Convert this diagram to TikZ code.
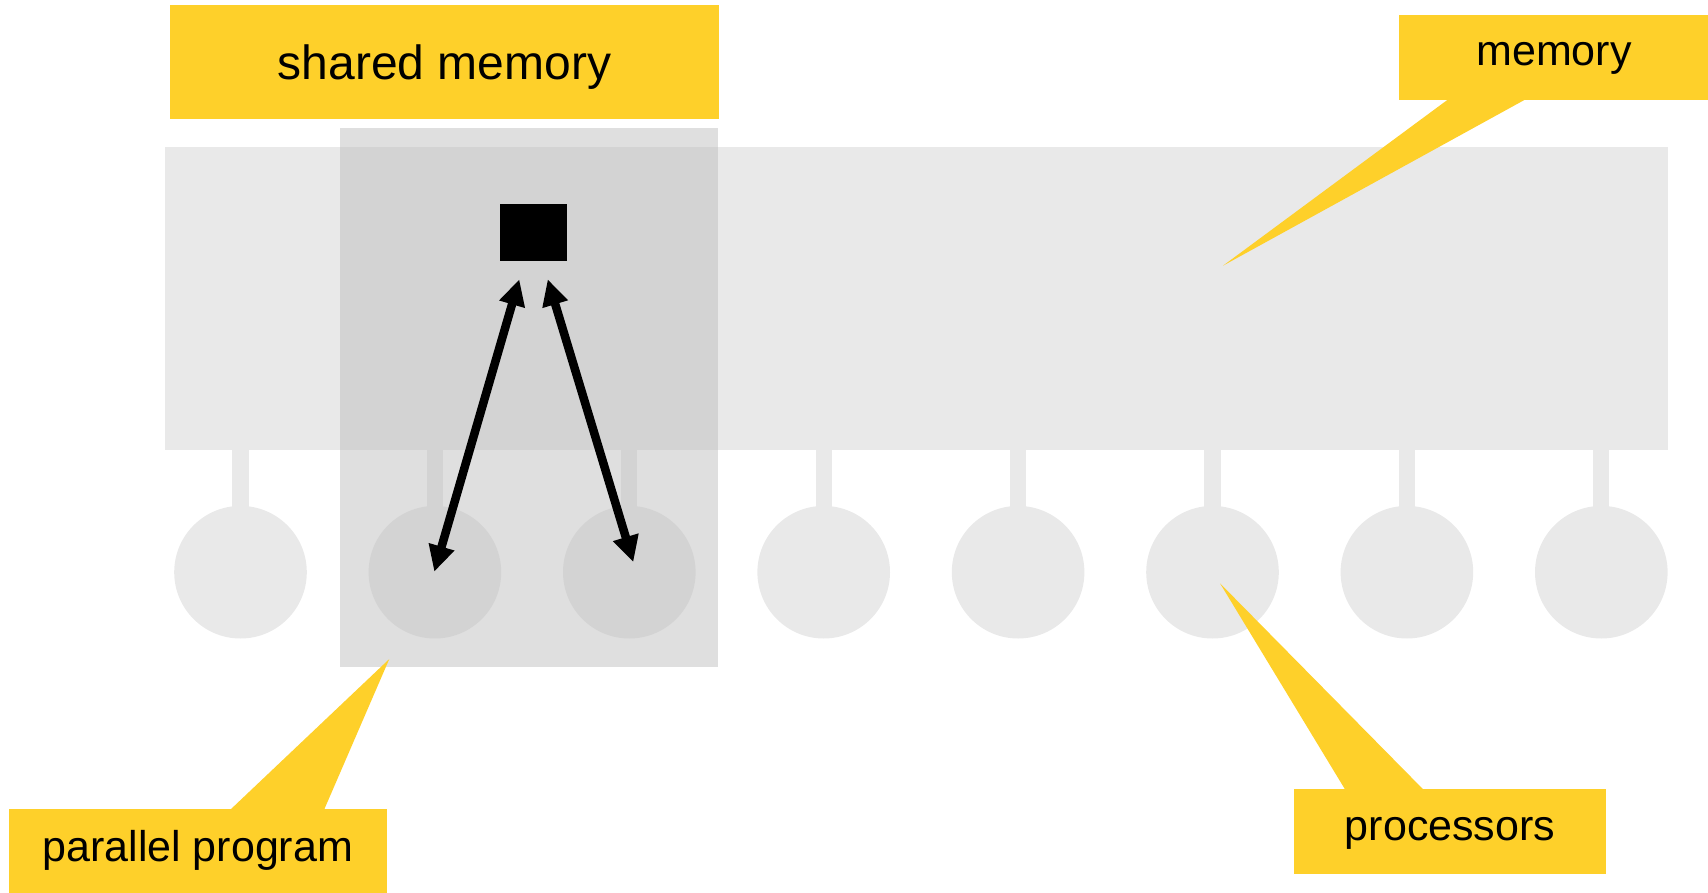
\documentclass[tikz,border=0pt]{standalone}
\usepackage{fontspec}
\setmainfont{Liberation Sans}
\usetikzlibrary{arrows.meta}
\definecolor{memgray}{RGB}{233,233,233}
\definecolor{progray}{RGB}{191,191,191}
\definecolor{calloutyellow}{RGB}{254,208,42}
\begin{document}
\begin{tikzpicture}[x=1pt,y=-1pt,
  membox/.style={fill=memgray,draw=none,inner sep=0pt,anchor=north west},
  procnode/.style={circle,fill=memgray,draw=none,minimum size=132.6pt,inner sep=0pt},
  stemline/.style={draw=memgray,line width=16.3pt,line cap=butt},
  progbox/.style={fill=progray,fill opacity=0.5,draw=none,inner sep=0pt,anchor=north west},
  callout/.style={fill=calloutyellow,draw=none},
  lbl/.style={anchor=base,inner sep=0pt,text=black,font=\fontsize{43}{50}\selectfont},
  biglbl/.style={lbl,font=\fontsize{48}{58}\selectfont},
  dblarrow/.style={draw=black,line width=8.5pt,{Triangle[length=26pt,width=25pt]}-{Triangle[length=26pt,width=25pt]}}
]
\useasboundingbox (0,0) rectangle (1708,893);

% memory block
\node[membox,minimum width=1503.5pt,minimum height=302.7pt] (memory) at (164.5,147) {};

% processors
\foreach \i in {0,...,7}{
  \node[procnode] (p\i) at ({240.5+194.4*\i},572.2) {};
  \draw[stemline] (p\i |- memory.south) -- (p\i.center);
}

% parallel program region
\node[progbox,minimum width=378pt,minimum height=539pt] (program) at (340,127.7) {};

% shared cell
\node[fill=black,draw=none,inner sep=0pt,anchor=north west,minimum width=67pt,minimum height=57pt] (cell) at (500,203.9) {};

% arrows
\coordinate (a1top) at (519.3,279.3);
\coordinate (a1bot) at (434.3,571.7);
\coordinate (a2top) at (547.7,279.3);
\coordinate (a2bot) at (633.3,562.1);
\draw[dblarrow] (a1top) -- (a1bot);
\draw[dblarrow] (a2top) -- (a2bot);

% callout: shared memory
\fill[callout] (170,5) rectangle (719,118.7);
\node[biglbl] (sharedlbl) at (444.5,80) {shared memory};

% callout: memory
\fill[callout] (1398.7,15) rectangle (1708,99.7);
\coordinate (memtip) at (1223,265.7);
\fill[callout] (1450,98) -- (1528,98) -- (memtip) -- cycle;
\node[lbl] (memlbl) at (1554,65.7) {memory};

% callout: parallel program
\fill[callout] (9,809) rectangle (386.7,893);
\coordinate (progtip) at (389.3,659);
\fill[callout] (230,810) -- (324,810) -- (progtip) -- cycle;
\node[lbl] (proglbl) at (197.8,861) {parallel program};

% callout: processors
\fill[callout] (1294.3,789.3) rectangle (1606,874.3);
\coordinate (proctip) at (1220,583.3);
\fill[callout] (1345.7,790.5) -- (1424.3,790.5) -- (proctip) -- cycle;
\node[lbl] (proclbl) at (1450,840) {processors};
\end{tikzpicture}
\end{document}
